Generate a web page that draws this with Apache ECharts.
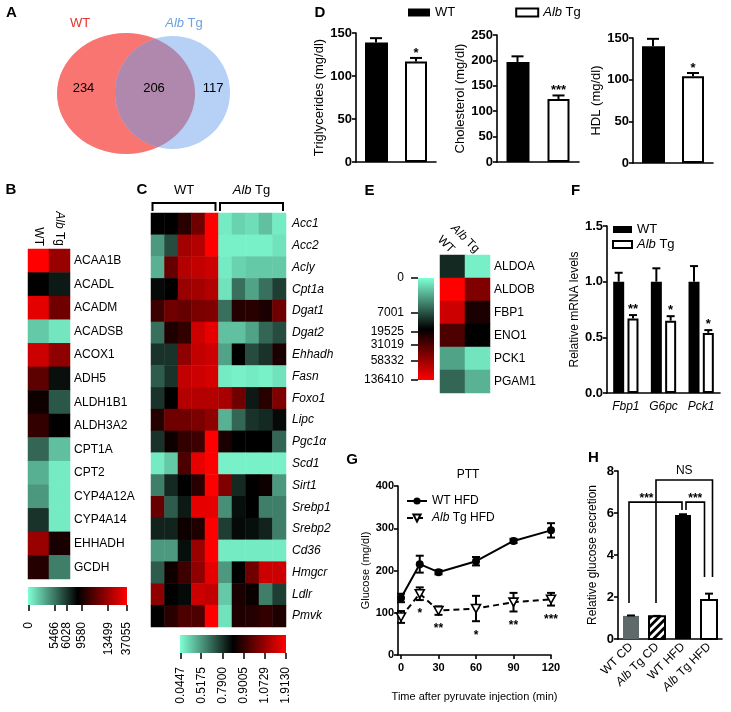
<!DOCTYPE html>
<html><head><meta charset="utf-8">
<script src="https://cdn.jsdelivr.net/npm/echarts@6/dist/echarts.min.js"></script>
<style>html,body{margin:0;padding:0;background:#fff}#c{width:731px;height:712px}</style>
</head><body><div id="c"></div>
<script>
const FONT = '"Liberation Sans", Arial, Helvetica, sans-serif';

// ---------- A: Venn ----------
const vennLabels = ['WT', 'Alb Tg'];
const vennCounts = [234, 206, 117];

// ---------- B: heatmap ----------
const bGenes = ['ACAA1B','ACADL','ACADM','ACADSB','ACOX1','ADH5','ALDH1B1','ALDH3A2','CPT1A','CPT2','CYP4A12A','CYP4A14','EHHADH','GCDH'];
const bSamples = ['WT', 'Alb Tg'];
const bWT = [37055, 8633, 30856, 2024, 24657, 11612, 9343, 10451, 5606, 3037, 4049, 6265, 13354, 10015];
const bTg = [13354, 7449, 12193, 810, 13064, 7922, 5747, 8633, 2429, 607, 607, 607, 9725, 5061];
const bTicks = [0, 5466, 6028, 9580, 13499, 37055];
const bTickPos = [0.01, 0.27, 0.39, 0.54, 0.81, 1.0];
const bTickLabels = ['0', '5466', '6028', '9580', '13499', '37055'];

// ---------- C: heatmap ----------
const cGenes = ['Acc1','Acc2','Acly','Cpt1a','Dgat1','Dgat2','Ehhadh','Fasn','Foxo1','Lipc','Pgc1\u03b1','Scd1','Sirt1','Srebp1','Srebp2','Cd36','Hmgcr','Ldlr','Pmvk'];
const cSamples = ['WT1','WT2','WT3','WT4','WT5','Tg1','Tg2','Tg3','Tg4','Tg5'];
const cGroupLabels = ['WT', 'Alb Tg'];
const cGroupFrom = [0, 5];
const cGroupTo = [4, 9];
const cValues = [
  [0.845,0.845,0.889,1.004,1.913, 0.116,0.234,0.187,0.328,0.116],
  [0.518,0.722,1.157,1.283,1.913, 0.092,0.092,0.092,0.092,0.163],
  [0.399,0.987,1.283,1.409,1.493, 0.116,0.234,0.281,0.281,0.281],
  [0.834,0.845,1.073,1.157,1.283, 0.163,0.627,0.470,0.627,0.763],
  [0.918,1.004,0.987,1.022,1.030, 0.627,0.884,0.889,0.873,1.004],
  [0.627,0.879,0.901,1.493,1.703, 0.328,0.328,0.470,0.654,0.722],
  [0.790,0.790,1.056,1.409,1.493, 0.470,0.845,0.722,0.790,0.873],
  [0.681,0.790,1.409,1.493,1.577, 0.116,0.092,0.116,0.092,0.163],
  [0.790,0.845,1.283,1.283,1.283, 1.199,1.004,0.818,0.889,1.030],
  [0.884,1.004,1.004,1.022,1.056, 0.399,0.654,0.790,0.801,0.834],
  [0.790,0.862,0.901,0.918,1.913, 0.873,0.845,0.845,0.845,0.654],
  [0.116,0.281,0.944,1.703,1.913, 0.092,0.092,0.092,0.092,0.092],
  [0.586,0.801,0.845,0.889,1.913, 1.030,0.801,0.845,0.862,0.518],
  [0.987,0.681,0.818,1.703,1.703, 0.545,0.829,0.845,0.586,0.586],
  [0.807,0.807,0.862,0.879,1.913, 0.763,0.834,0.829,0.807,0.586],
  [0.518,0.518,0.829,1.073,1.913, 0.116,0.116,0.116,0.116,0.116],
  [0.681,0.862,0.918,1.056,1.703, 0.518,0.845,1.004,1.493,1.493],
  [1.056,0.845,0.834,1.493,1.409, 0.281,0.873,0.856,0.586,0.763],
  [0.845,0.889,0.944,0.944,1.913, 0.163,0.879,0.884,0.901,0.879]
];
const cTicks = [0.0447, 0.5175, 0.7900, 0.9005, 1.0729, 1.9130];
const cTickPos = [0.01, 0.2, 0.4, 0.6, 0.8, 1.0];
const cTickLabels = ['0.0447','0.5175','0.7900','0.9005','1.0729','1.9130'];

// ---------- E: heatmap ----------
const eGenes = ['ALDOA','ALDOB','FBP1','ENO1','PCK1','PGAM1'];
const eSamples = ['WT', 'Alb Tg'];
const eWT = [12274, 136410, 95316, 31019, 3706, 6177];
const eTg = [618, 48090, 21441, 17548, 1030, 3089];
const eTicks = [0, 7001, 19525, 31019, 58332, 136410];
const eTickPos = [0.0, 0.34, 0.53, 0.65, 0.81, 1.0];
const eTickLabels = ['0','7001','19525','31019','58332','136410'];

// ---------- D: serum lipids ----------
const dGroups = ['WT', 'Alb Tg'];
const dTrig = [139, 117], dTrigErr = [5, 4], dTrigStars = ['', '*'];
const dChol = [197, 124], dCholErr = [11, 7], dCholStars = ['', '***'];
const dHdl = [140, 104], dHdlErr = [9, 4], dHdlStars = ['', '*'];

// ---------- F: mRNA ----------
const fGenes = ['Fbp1', 'G6pc', 'Pck1'];
const fWT = [1.0, 1.0, 1.0], fWTErr = [0.08, 0.12, 0.14];
const fTg = [0.67, 0.65, 0.54], fTgErr = [0.03, 0.04, 0.025];
const fStars = ['**', '*', '*'];

// ---------- G: PTT ----------
const gTimes = [0, 15, 30, 60, 90, 120];
const gWT = [135, 215, 196, 222, 270, 295], gWTErr = [10, 20, 5, 10, 5, 17];
const gTg = [90, 145, 105, 110, 125, 132], gTgErr = [14, 15, 10, 30, 22, 15];
const gStars = ['', '*', '**', '*', '**', '***'];
const gXTicks = [0, 30, 60, 90, 120];

// ---------- H: glucose secretion ----------
const hGroups = ['WT CD', 'Alb Tg CD', 'WT HFD', 'Alb Tg HFD'];
const hVals = [1.1, 1.08, 5.9, 1.86];
const hErr = [0.02, 0.02, 0.04, 0.3];
const hBrackets = [
  {a: 0, b: 2, level: 6.52, ya: 1.71, yb: 6.14, label: '***'},
  {a: 2, b: 3, level: 6.52, ya: 6.14, yb: 2.95, label: '***'},
  {a: 1, b: 3, level: 7.57, ya: 1.71, yb: 2.95, label: 'NS'}
];

// ---------- helpers ----------
const CMAP = ['#7FFFD4', '#000000', '#FF0000'];
function valToPos(v, ticks, pos) {
  if (v <= ticks[0]) return pos[0];
  for (let i = 1; i < ticks.length; i++) {
    if (v <= ticks[i]) return pos[i-1] + (v - ticks[i-1]) / (ticks[i] - ticks[i-1]) * (pos[i] - pos[i-1]);
  }
  return pos[pos.length - 1];
}
function albFmt(s) { return s.replace(/^Alb/, '{i|Alb}'); }
function richSized(size, extra) { return {i: Object.assign({fontStyle: 'italic', fontFamily: FONT, fontSize: size, color: '#000'}, extra || {})}; }

const bData = [];
[bWT, bTg].forEach((col, xi) => col.forEach((v, yi) => bData.push([xi, yi, v, valToPos(v, bTicks, bTickPos)])));
const cData = [];
cValues.forEach((row, yi) => row.forEach((v, xi) => cData.push([xi, yi, v, valToPos(v, cTicks, cTickPos)])));
const eData = [];
[eWT, eTg].forEach((col, xi) => col.forEach((v, yi) => eData.push([xi, yi, v, valToPos(v, eTicks, eTickPos)])));

const LW = 1.6;
const axLine = {show: true, onZero: false, lineStyle: {color: '#000', width: LW}};
const axTick = {show: true, inside: false, length: 4, lineStyle: {color: '#000', width: LW}};

function cbarSeries(gi, vertical) {
  return {
    type: 'custom', xAxisIndex: gi, yAxisIndex: gi, silent: true, clip: false,
    data: [[0, 0]],
    renderItem(params, api) {
      const p0 = api.coord([0, 0]), p1 = api.coord([1, 1]);
      const x = Math.min(p0[0], p1[0]), y = Math.min(p0[1], p1[1]);
      const w = Math.abs(p1[0] - p0[0]), h = Math.abs(p1[1] - p0[1]);
      const stops = CMAP.map((c, i) => ({offset: i / (CMAP.length - 1), color: c}));
      const grad = vertical ? new echarts.graphic.LinearGradient(0, 0, 0, 1, stops)
                            : new echarts.graphic.LinearGradient(0, 0, 1, 0, stops);
      return {type: 'rect', shape: {x, y, width: w, height: h}, style: {fill: grad}};
    }
  };
}
function cbarFormatter(pos, labels) {
  return v => { const i = pos.findIndex(p => Math.abs(p - v) < 1e-6); return i >= 0 ? labels[i] : ''; };
}

function errSeries(gi, means, errs, stars, o) {
  return {
    type: 'custom', xAxisIndex: gi, yAxisIndex: gi, z: 5, silent: true, clip: false,
    data: means.map((m, i) => [i, m, errs[i]]),
    renderItem(params, api) {
      const i = params.dataIndex;
      const base = api.coord([api.value(0), api.value(1)]);
      const top = api.coord([api.value(0), api.value(1) + api.value(2)]);
      const x = base[0] + (o.dx || 0);
      const cw = o.cap;
      const ch = [
        {type: 'line', shape: {x1: x, y1: base[1], x2: x, y2: top[1]}, style: {stroke: '#000', lineWidth: o.lw}},
        {type: 'line', shape: {x1: x - cw / 2, y1: top[1], x2: x + cw / 2, y2: top[1]}, style: {stroke: '#000', lineWidth: o.lw}}
      ];
      if (stars && stars[i]) {
        ch.push({type: 'text', style: {text: stars[i], x: x, y: top[1] - o.sg, align: 'center', verticalAlign: 'middle',
          fontSize: o.fs, fontWeight: 'bold', fontFamily: FONT, fill: '#000'}});
      }
      return {type: 'group', children: ch};
    }
  };
}

function dYAxis(gi, max, name, gap) {
  return {gridIndex: gi, type: 'value', min: 0, max: max, interval: 50, axisLine: axLine, axisTick: axTick,
    splitLine: {show: false},
    axisLabel: {fontSize: 13, fontWeight: 'bold', color: '#000', margin: 4, fontFamily: FONT},
    name: name, nameLocation: 'middle', nameGap: gap, nameTextStyle: {fontSize: 13, color: '#000', fontFamily: FONT}};
}
function dXAxis(gi) {
  return {gridIndex: gi, type: 'category', data: dGroups, axisLine: axLine, axisTick: {show: false}, axisLabel: {show: false}};
}
function dBars(gi, vals) {
  return [
    {type: 'bar', name: 'WT', xAxisIndex: gi, yAxisIndex: gi, data: [vals[0], '-'], barWidth: 23, barGap: '-100%',
      itemStyle: {color: '#000'}, silent: true},
    {type: 'bar', name: 'Alb Tg', xAxisIndex: gi, yAxisIndex: gi, data: ['-', vals[1]], barWidth: 22, barGap: '-100%',
      itemStyle: {color: '#fff', borderColor: '#000', borderWidth: 2}, silent: true}
  ];
}

// Venn geometry (layout only)
const E1 = {cx: 126, cy: 93.5, rx: 69, ry: 60.5};
const E2 = {cx: 172.5, cy: 92.5, rx: 57.5, ry: 56.5};
function inside(x, y, e) { const dx = (x - e.cx) / e.rx, dy = (y - e.cy) / e.ry; return dx * dx + dy * dy <= 1.0001; }
const lens = [];
for (let k = 0; k < 720; k++) {
  const a = k / 720 * 2 * Math.PI;
  const p1 = [E1.cx + E1.rx * Math.cos(a), E1.cy + E1.ry * Math.sin(a)];
  if (inside(p1[0], p1[1], E2)) lens.push(p1);
  const p2 = [E2.cx + E2.rx * Math.cos(a), E2.cy + E2.ry * Math.sin(a)];
  if (inside(p2[0], p2[1], E1)) lens.push(p2);
}
const lc = [((E2.cx - E2.rx) + (E1.cx + E1.rx)) / 2, (E1.cy + E2.cy) / 2];
lens.sort((p, q) => Math.atan2(p[1] - lc[1], p[0] - lc[0]) - Math.atan2(q[1] - lc[1], q[0] - lc[0]));

function letter(t, x, y) {
  return {type: 'text', x: x, y: y, silent: true, style: {text: t, align: 'center', verticalAlign: 'middle',
    fontSize: 15, fontWeight: 'bold', fontFamily: FONT, fill: '#000'}};
}
function plainText(t, x, y, size, color, extra) {
  return {type: 'text', x: x, y: y, silent: true, style: Object.assign({text: t, align: 'center', verticalAlign: 'middle',
    fontSize: size, fontFamily: FONT, fill: color, rich: richSized(size, {color: color})}, extra || {})};
}

const graphicEls = [
  {type: 'ellipse', silent: true, shape: E1, style: {fill: '#F87572'}},
  {type: 'ellipse', silent: true, shape: E2, style: {fill: '#B7D0F5'}},
  {type: 'polygon', silent: true, shape: {points: lens}, style: {fill: '#B088AD'}},
  plainText(vennLabels[0], 80, 23, 13, '#E8302A'),
  plainText(albFmt(vennLabels[1]), 184, 23, 13, '#6AA2E4'),
  plainText(String(vennCounts[0]), 83.5, 88, 13, '#000'),
  plainText(String(vennCounts[1]), 154, 88, 13, '#000'),
  plainText(String(vennCounts[2]), 213, 88, 13, '#000'),
  plainText('PTT', 468, 475, 12, '#000'),
  letter('A', 11.5, 13), letter('B', 11, 190), letter('C', 142, 190), letter('D', 320, 12.5),
  letter('E', 369.5, 190.5), letter('F', 575.5, 190.5), letter('G', 352, 460), letter('H', 593.5, 458)
];

const grids = [
  {left: 28, top: 249, width: 42, height: 330},    // 0 B heat
  {left: 28, top: 587, width: 99, height: 18},     // 1 B colorbar
  {left: 151, top: 213, width: 135, height: 414},  // 2 C heat
  {left: 180, top: 635, width: 106, height: 18},   // 3 C colorbar
  {left: 440, top: 255, width: 50, height: 138},   // 4 E heat
  {left: 418, top: 278, width: 16, height: 102},   // 5 E colorbar
  {left: 356, top: 33, width: 80, height: 129},    // 6 D1
  {left: 497, top: 35, width: 82, height: 127},    // 7 D2
  {left: 633, top: 38, width: 80, height: 125},    // 8 D3
  {left: 607, top: 226, width: 113, height: 167},  // 9 F
  {left: 398, top: 486, width: 153, height: 169},  // 10 G
  {left: 618, top: 471, width: 104, height: 168}   // 11 H
];

const hidVal = gi => ({gridIndex: gi, type: 'value', min: 0, max: 1, show: false});

const xAxes = [
  {gridIndex: 0, type: 'category', data: bSamples, position: 'top', axisLine: {show: false}, axisTick: {show: false},
    axisLabel: {rotate: 90, margin: 3, fontSize: 12, color: '#000', fontFamily: FONT, formatter: albFmt, rich: richSized(12)}},
  {gridIndex: 1, type: 'value', min: 0, max: 1, position: 'bottom', offset: 7, axisLine: {show: false}, splitLine: {show: false},
    axisTick: {show: true, customValues: bTickPos, length: 6, lineStyle: {color: '#000', width: 1.5}},
    axisLabel: {customValues: bTickPos, rotate: 90, margin: 10, fontSize: 12, color: '#000', fontFamily: FONT, formatter: cbarFormatter(bTickPos, bTickLabels)}},
  {gridIndex: 2, type: 'category', data: cSamples, show: false},
  {gridIndex: 3, type: 'value', min: 0, max: 1, position: 'bottom', offset: 4, axisLine: {show: false}, splitLine: {show: false},
    axisTick: {show: true, customValues: cTickPos, length: 6, lineStyle: {color: '#000', width: 1.5}},
    axisLabel: {customValues: cTickPos, rotate: 90, margin: 10, fontSize: 12, color: '#000', fontFamily: FONT, formatter: cbarFormatter(cTickPos, cTickLabels)}},
  {gridIndex: 4, type: 'category', data: eSamples, position: 'top', axisLine: {show: false}, axisTick: {show: false},
    axisLabel: {rotate: 45, margin: 4, fontSize: 12, color: '#000', fontFamily: FONT, formatter: albFmt, rich: richSized(12)}},
  hidVal(5),
  dXAxis(6), dXAxis(7), dXAxis(8),
  {gridIndex: 9, type: 'category', data: fGenes, axisLine: axLine, axisTick: {show: false},
    axisLabel: {fontSize: 12, fontStyle: 'italic', color: '#000', margin: 8, fontFamily: FONT}},
  {gridIndex: 10, type: 'value', min: -2.4, max: 120, axisLine: axLine, splitLine: {show: false},
    axisTick: Object.assign({}, axTick, {customValues: gXTicks}),
    axisLabel: {customValues: gXTicks, fontSize: 11, fontWeight: 'bold', color: '#000', margin: 7, fontFamily: FONT},
    name: 'Time after pyruvate injection (min)', nameLocation: 'middle', nameGap: 36,
    nameTextStyle: {fontSize: 11, color: '#000', fontFamily: FONT}},
  {gridIndex: 11, type: 'category', data: hGroups, axisLine: axLine, axisTick: {show: false},
    axisLabel: {rotate: 45, interval: 0, margin: 6, fontSize: 12, color: '#000', fontFamily: FONT, formatter: albFmt, rich: richSized(12)}}
];

const yAxes = [
  {gridIndex: 0, type: 'category', data: bGenes, inverse: true, position: 'right', axisLine: {show: false}, axisTick: {show: false},
    axisLabel: {margin: 4, fontSize: 12, color: '#000', fontFamily: FONT}},
  hidVal(1),
  {gridIndex: 2, type: 'category', data: cGenes, inverse: true, position: 'right', axisLine: {show: false}, axisTick: {show: false},
    axisLabel: {margin: 6, fontSize: 12, fontStyle: 'italic', color: '#000', fontFamily: FONT}},
  hidVal(3),
  {gridIndex: 4, type: 'category', data: eGenes, inverse: true, position: 'right', axisLine: {show: false}, axisTick: {show: false},
    axisLabel: {margin: 4, fontSize: 12, color: '#000', fontFamily: FONT}},
  {gridIndex: 5, type: 'value', min: 0, max: 1, inverse: true, position: 'left', offset: 3, axisLine: {show: false}, splitLine: {show: false},
    axisTick: {show: true, customValues: eTickPos, length: 7, lineStyle: {color: '#000', width: 1.5}},
    axisLabel: {customValues: eTickPos, margin: 11, fontSize: 12, color: '#000', fontFamily: FONT, formatter: cbarFormatter(eTickPos, eTickLabels)}},
  dYAxis(6, 150, 'Triglycerides (mg/dl)', 27),
  dYAxis(7, 250, 'Cholesterol (mg/dl)', 23),
  dYAxis(8, 150, 'HDL (mg/dl)', 24),
  {gridIndex: 9, type: 'value', min: 0, max: 1.5, interval: 0.5, axisLine: axLine, axisTick: axTick, splitLine: {show: false},
    axisLabel: {fontSize: 13, fontWeight: 'bold', color: '#000', margin: 4, fontFamily: FONT, formatter: v => v.toFixed(1)},
    name: 'Relative mRNA levels', nameLocation: 'middle', nameGap: 26, nameTextStyle: {fontSize: 12, color: '#000', fontFamily: FONT}},
  {gridIndex: 10, type: 'value', min: 0, max: 400, interval: 100, axisLine: axLine, axisTick: axTick, splitLine: {show: false},
    axisLabel: {fontSize: 11, fontWeight: 'bold', color: '#000', margin: 4, fontFamily: FONT},
    name: 'Glucose (mg/dl)', nameLocation: 'middle', nameGap: 26, nameTextStyle: {fontSize: 11, color: '#000', fontFamily: FONT}},
  {gridIndex: 11, type: 'value', min: 0, max: 8, interval: 2, axisLine: axLine, axisTick: axTick, splitLine: {show: false},
    axisLabel: {fontSize: 13, fontWeight: 'bold', color: '#000', margin: 4, fontFamily: FONT},
    name: 'Relative glucose secretion', nameLocation: 'middle', nameGap: 19, nameTextStyle: {fontSize: 12, color: '#000', fontFamily: FONT}}
];

const heat = (gi, data) => ({type: 'heatmap', xAxisIndex: gi, yAxisIndex: gi, data: data, silent: true,
  itemStyle: {borderWidth: 0}, emphasis: {disabled: true}, progressive: 0});

const hFill = ['#5F6969', '#fff', '#000', '#fff'];
const hHatch = [false, true, false, false];
const hBorder = [0, 2, 0, 2];

const series = [
  heat(0, bData), heat(2, cData), heat(4, eData),
  cbarSeries(1, false), cbarSeries(3, false), cbarSeries(5, true),
  {type: 'custom', xAxisIndex: 2, yAxisIndex: 2, silent: true, clip: false,
    data: cGroupFrom.map((f, i) => [f, cGroupTo[i]]),
    renderItem(params, api) {
      const i = params.dataIndex;
      const s = api.size([1, 1]);
      const a = api.coord([api.value(0), 0]), b = api.coord([api.value(1), 0]);
      const top = a[1] - s[1] / 2;
      const x1 = a[0] - s[0] / 2 + 1.5, x2 = b[0] + s[0] / 2 - 3;
      return {type: 'group', children: [
        {type: 'polyline', shape: {points: [[x1, top - 2], [x1, top - 10], [x2, top - 10], [x2, top - 2]]},
          style: {stroke: '#000', lineWidth: 2, fill: null}},
        {type: 'text', style: {text: albFmt(cGroupLabels[i]), x: (x1 + x2) / 2, y: top - 23, align: 'center', verticalAlign: 'middle',
          fontSize: 13, fontFamily: FONT, fill: '#000', rich: richSized(13)}}
      ]};
    }},
  ...dBars(6, dTrig), errSeries(6, dTrig, dTrigErr, dTrigStars, {cap: 12, lw: 2, sg: 5, fs: 13}),
  ...dBars(7, dChol), errSeries(7, dChol, dCholErr, dCholStars, {cap: 12, lw: 2, sg: 5, fs: 13}),
  ...dBars(8, dHdl), errSeries(8, dHdl, dHdlErr, dHdlStars, {cap: 12, lw: 2, sg: 5, fs: 13}),
  {type: 'bar', name: 'WT', xAxisIndex: 9, yAxisIndex: 9, data: fWT, barWidth: 11, barGap: '30%', itemStyle: {color: '#000'}, silent: true},
  {type: 'bar', name: 'Alb Tg', xAxisIndex: 9, yAxisIndex: 9, data: fTg, barWidth: 11, barGap: '30%',
    itemStyle: {color: '#fff', borderColor: '#000', borderWidth: 2}, silent: true},
  errSeries(9, fWT, fWTErr, null, {cap: 8, lw: 2, dx: -7.15}),
  errSeries(9, fTg, fTgErr, fStars, {cap: 8, lw: 2, dx: 7.15, sg: 6, fs: 13}),
  {type: 'line', name: 'WT HFD', xAxisIndex: 10, yAxisIndex: 10, z: 4, silent: true,
    data: gTimes.map((t, i) => [t, gWT[i]]), symbol: 'circle', symbolSize: 8,
    itemStyle: {color: '#000'}, lineStyle: {color: '#000', width: 2}},
  {type: 'line', name: 'Alb Tg HFD', xAxisIndex: 10, yAxisIndex: 10, z: 4, silent: true,
    data: gTimes.map((t, i) => [t, gTg[i]]), symbol: 'path://M0,0L10,0L5,9Z', symbolSize: 9, symbolKeepAspect: true,
    itemStyle: {color: '#fff', borderColor: '#000', borderWidth: 1.6}, lineStyle: {color: '#000', width: 2, type: [6, 4]}},
  {type: 'custom', xAxisIndex: 10, yAxisIndex: 10, z: 3, silent: true, clip: false,
    data: gTimes.map((t, i) => [t, gWT[i], gWTErr[i]]).concat(gTimes.map((t, i) => [t, gTg[i], gTgErr[i]])),
    renderItem(params, api) {
      const t = api.value(0), m = api.value(1), e = api.value(2);
      const lo = api.coord([t, m - e]), hi = api.coord([t, m + e]);
      const x = lo[0], cw = 8;
      return {type: 'group', children: [
        {type: 'line', shape: {x1: x, y1: lo[1], x2: x, y2: hi[1]}, style: {stroke: '#000', lineWidth: 2}},
        {type: 'line', shape: {x1: x - cw / 2, y1: lo[1], x2: x + cw / 2, y2: lo[1]}, style: {stroke: '#000', lineWidth: 2}},
        {type: 'line', shape: {x1: x - cw / 2, y1: hi[1], x2: x + cw / 2, y2: hi[1]}, style: {stroke: '#000', lineWidth: 2}}
      ]};
    }},
  {type: 'custom', xAxisIndex: 10, yAxisIndex: 10, z: 3, silent: true, clip: false,
    data: gTimes.map((t, i) => [t, gTg[i] - gTgErr[i]]),
    renderItem(params, api) {
      const s = gStars[params.dataIndex];
      if (!s) return null;
      const p = api.coord([api.value(0), api.value(1)]);
      return {type: 'text', style: {text: s, x: p[0], y: p[1] + 14, align: 'center', verticalAlign: 'middle',
        fontSize: 12, fontWeight: 'bold', fontFamily: FONT, fill: '#000'}};
    }},
  // H bars drawn through the category/value scales, with hatching for the CD transgenic group
  {type: 'custom', xAxisIndex: 11, yAxisIndex: 11, z: 2, silent: true,
    data: hVals.map((v, i) => [i, v]),
    renderItem(params, api) {
      const i = params.dataIndex;
      const p0 = api.coord([api.value(0), 0]), p1 = api.coord([api.value(0), api.value(1)]);
      const bw = 16;
      const x0 = p0[0] - bw / 2, y0 = p1[1], y1 = p0[1];
      const ch = [{type: 'rect', shape: {x: x0, y: y0, width: bw, height: y1 - y0}, style: {fill: hFill[i]}}];
      if (hHatch[i]) {
        const step = 8;
        for (let c = x0 + y0 + 3; c < x0 + bw + y1; c += step) {
          const xa = Math.max(x0, c - y1), xb = Math.min(x0 + bw, c - y0);
          if (xa < xb) ch.push({type: 'line', shape: {x1: xa, y1: c - xa, x2: xb, y2: c - xb}, style: {stroke: '#000', lineWidth: 2.8}});
        }
      }
      if (hBorder[i]) {
        ch.push({type: 'rect', shape: {x: x0, y: y0, width: bw, height: y1 - y0}, style: {fill: null, stroke: '#000', lineWidth: hBorder[i]}});
      }
      return {type: 'group', children: ch};
    }},
  errSeries(11, hVals, hErr, null, {cap: 8, lw: 2}),
  {type: 'custom', xAxisIndex: 11, yAxisIndex: 11, z: 6, silent: true, clip: false,
    data: hBrackets.map(b => [b.a, b.level]),
    renderItem(params, api) {
      const br = hBrackets[params.dataIndex];
      const dxs = [[-2, -1], [3, -4.5], [-1, 3.5]][params.dataIndex];
      const labDx = [-9, 0, 0][params.dataIndex];
      const A = api.coord([br.a, br.ya]), B = api.coord([br.b, br.yb]);
      const L = api.coord([br.a, br.level]);
      const x1 = A[0] + dxs[0], x2 = B[0] + dxs[1];
      const isNS = br.label === 'NS';
      return {type: 'group', children: [
        {type: 'polyline', shape: {points: [[x1, A[1]], [x1, L[1]], [x2, L[1]], [x2, B[1]]]},
          style: {stroke: '#000', lineWidth: 1.6, fill: null}},
        {type: 'text', style: {text: br.label, x: (x1 + x2) / 2 + labDx, y: L[1] - (isNS ? 9 : 3), align: 'center', verticalAlign: 'middle',
          fontSize: 12, fontWeight: isNS ? 'normal' : 'bold', fontFamily: FONT, fill: '#000'}}
      ]};
    }}
];

const option = {
  animation: false,
  backgroundColor: '#fff',
  textStyle: {fontFamily: FONT, color: '#000'},
  grid: grids,
  xAxis: xAxes,
  yAxis: yAxes,
  visualMap: [{type: 'continuous', show: false, min: 0, max: 1, dimension: 3, seriesIndex: [0, 1, 2], inRange: {color: CMAP}}],
  legend: [
    {data: ['WT', 'Alb Tg'], left: 408, top: 6, padding: 0, itemWidth: 22, itemHeight: 8, itemGap: 60, selectedMode: false,
      icon: 'rect', formatter: albFmt, textStyle: {fontSize: 13, color: '#000', fontFamily: FONT, rich: richSized(13)}},
    {data: ['WT', 'Alb Tg'], left: 612, top: 223, padding: 0, orient: 'vertical', itemWidth: 19, itemHeight: 7, itemGap: 2, selectedMode: false,
      icon: 'rect', formatter: albFmt, textStyle: {fontSize: 13, color: '#000', fontFamily: FONT, rich: richSized(13)}},
    {data: ['WT HFD', 'Alb Tg HFD'], left: 406, top: 495, padding: 0, orient: 'vertical', itemWidth: 20, itemHeight: 9, itemGap: 5, selectedMode: false,
      formatter: albFmt, textStyle: {fontSize: 12, color: '#000', fontFamily: FONT, rich: richSized(12)}}
  ],
  graphic: {elements: graphicEls},
  series: series
};

const chart = echarts.init(document.getElementById('c'), null, {renderer: 'canvas', width: 731, height: 712});
chart.setOption(option);
</script>
</body></html>
